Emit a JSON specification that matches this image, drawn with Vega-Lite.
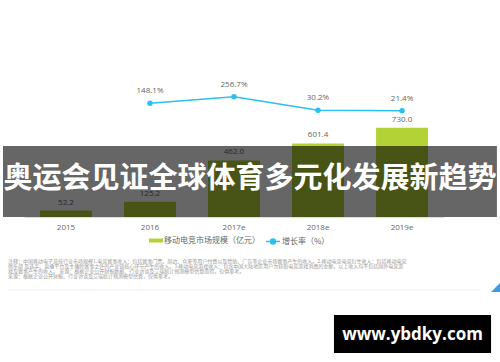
{
  "$schema": "https://vega.github.io/schema/vega-lite/v6.json",
  "width": 420,
  "height": 137,
  "autosize": {"type": "none"},
  "padding": {"left": 24, "top": 80, "right": 56, "bottom": 145},
  "background": "white",
  "config": {"view": {"stroke": null}, "font": "Noto Sans"},
  "datasets": {
    "d": [
      {"year": "2015", "market": 52.2, "growth": null},
      {"year": "2016", "market": 125.2, "growth": 148.1},
      {"year": "2017e", "market": 462.0, "growth": 256.7},
      {"year": "2018e", "market": 601.4, "growth": 30.2},
      {"year": "2019e", "market": 730.0, "growth": 21.4}
    ]
  },
  "layer": [
    {
      "data": {"name": "d"},
      "encoding": {
        "x": {
          "field": "year", "type": "ordinal", "sort": null,
          "scale": {"type": "band", "domain": ["2015", "2016", "2017e", "2018e", "2019e"], "paddingInner": 0.381, "paddingOuter": 0.19},
          "axis": {"title": null, "domainColor": "#dcdcdc", "ticks": false, "labelPadding": 6, "labelFontSize": 8, "labelColor": "#666666", "labelAngle": 0, "grid": false, "labelFont": "Open Sans"}
        },
        "y": {"field": "market", "type": "quantitative", "scale": {"domain": [0, 1120]}, "axis": null}
      },
      "layer": [
        {
          "mark": {"type": "bar"},
          "encoding": {
            "fill": {
              "datum": "移动电竞市场规模（亿元）", "type": "nominal",
              "scale": {"range": ["#b3d235"]},
              "legend": {"orient": "none", "legendX": 125, "legendY": 153.5, "title": null, "symbolType": "M-1,-0.286H1V0.286H-1Z", "symbolSize": 196, "symbolStrokeWidth": 0, "labelFontSize": 8, "labelColor": "#666666", "labelFont": "Noto Sans CJK SC", "padding": 0, "labelOffset": 1}
            }
          }
        },
        {
          "mark": {"type": "text", "dy": -8, "fontSize": 8, "color": "#666666", "font": "Open Sans"},
          "encoding": {"text": {"field": "market", "type": "quantitative", "format": ".1f"}}
        }
      ]
    },
    {
      "data": {"name": "d"},
      "transform": [
        {"filter": "isValid(datum.growth)"},
        {"calculate": "format(datum.growth, '.1f') + '%'", "as": "glabel"}
      ],
      "encoding": {
        "x": {
          "field": "year", "type": "ordinal", "sort": null,
          "scale": {"type": "band", "domain": ["2015", "2016", "2017e", "2018e", "2019e"], "paddingInner": 0.381, "paddingOuter": 0.19},
          "axis": null
        },
        "y": {"field": "growth", "type": "quantitative", "scale": {"domain": [-1765, 538]}, "axis": null}
      },
      "layer": [
        {
          "mark": {"type": "line", "strokeWidth": 1.6},
          "encoding": {
            "stroke": {
              "datum": "增长率（%）", "type": "nominal",
              "scale": {"range": ["#2bc0f0"]},
              "legend": {"orient": "none", "legendX": 241, "legendY": 153.5, "title": null, "symbolType": "M-1,0H1M-0.35,0A0.35,0.35,0,1,1,0.35,0A0.35,0.35,0,1,1,-0.35,0", "symbolSize": 196, "symbolStrokeWidth": 1.5, "symbolFillColor": "#2bc0f0", "labelFontSize": 8, "labelColor": "#666666", "labelFont": "Noto Sans CJK SC", "padding": 0, "labelOffset": 1}
            }
          }
        },
        {
          "mark": {"type": "point", "filled": true, "size": 30, "color": "#2bc0f0", "opacity": 1}
        },
        {
          "mark": {"type": "text", "dy": -12, "fontSize": 8, "color": "#666666", "font": "Open Sans"},
          "encoding": {"text": {"field": "glabel", "type": "nominal"}}
        }
      ]
    },
    {
      "data": {"values": [{}]},
      "layer": [
        {
          "mark": {"type": "rect", "color": "black", "opacity": 0.6},
          "encoding": {
            "x": {"datum": -0.05, "type": "quantitative", "scale": {"domain": [0, 1]}, "axis": null},
            "x2": {"datum": 1.126},
            "y": {"datum": 0, "type": "quantitative", "scale": {"domain": [0, 1]}, "axis": null},
            "y2": {"datum": 0.518}
          }
        },
        {
          "mark": {"type": "text", "text": "奥运会见证全球体育多元化发展新趋势", "font": "Noto Sans CJK SC", "fontWeight": "bold", "fontSize": 29, "color": "white", "align": "center", "baseline": "middle"},
          "encoding": {
            "x": {"datum": 0.538, "type": "quantitative", "scale": {"domain": [0, 1]}, "axis": null},
            "y": {"datum": 0.277, "type": "quantitative", "scale": {"domain": [0, 1]}, "axis": null}
          }
        },
        {
          "mark": {
            "type": "text",
            "text": [
              "注释：中国移动电子竞技行业市场规模1.电竞赛事收入：包括赛事门票、周边、众筹等用户付费以及赞助、广告等企业市场赛事产生的收入。2.移动电竞电竞衍生收入：包括移动电竞",
              "俱乐部 及选手、直播平台及主播除赛事之外的产业链核心环节产生的收入。3.移动电竞游戏收入：包含中国大陆地区用户为获取电竞游戏消费的金额，以上收入均不包括国外电竞游",
              "戏及赛事产生的收入。 来源：根据企业公开财报数据、行业访谈及艾瑞统计预测模型估算而得，仅供参考。",
              "来源：根据企业公开财报、行业访谈及艾瑞统计预测模型估算，仅供参考。"
            ],
            "font": "Noto Sans CJK SC", "fontSize": 5, "lineHeight": 5, "color": "#9a9a9a", "align": "left", "baseline": "top"
          },
          "encoding": {
            "x": {"datum": -0.038, "type": "quantitative", "scale": {"domain": [0, 1]}, "axis": null},
            "y": {"datum": -0.31, "type": "quantitative", "scale": {"domain": [0, 1]}, "axis": null}
          }
        },
        {
          "mark": {"type": "rule", "color": "#eeeeee", "strokeWidth": 1},
          "encoding": {
            "x": {"datum": -0.038, "type": "quantitative", "scale": {"domain": [0, 1]}, "axis": null},
            "x2": {"datum": 1.085},
            "y": {"datum": -0.533, "type": "quantitative", "scale": {"domain": [0, 1]}, "axis": null}
          }
        },
        {
          "mark": {"type": "point", "shape": "M1,-1L1,1L-1,1Z", "filled": true, "size": 81, "color": "#3d9be0", "opacity": 1},
          "encoding": {
            "x": {"datum": 1.1226, "type": "quantitative", "scale": {"domain": [0, 1]}, "axis": null},
            "y": {"datum": -0.5146, "type": "quantitative", "scale": {"domain": [0, 1]}, "axis": null}
          }
        },
        {
          "mark": {"type": "rect", "color": "black", "opacity": 1},
          "encoding": {
            "x": {"datum": 0.738, "type": "quantitative", "scale": {"domain": [0, 1]}, "axis": null},
            "x2": {"datum": 1.112},
            "y": {"datum": -0.715, "type": "quantitative", "scale": {"domain": [0, 1]}, "axis": null},
            "y2": {"datum": -0.993}
          }
        },
        {
          "mark": {"type": "text", "text": "www.ybdky.com", "font": "Open Sans", "fontWeight": "bold", "fontSize": 17, "color": "white", "align": "center", "baseline": "middle"},
          "encoding": {
            "x": {"datum": 0.925, "type": "quantitative", "scale": {"domain": [0, 1]}, "axis": null},
            "y": {"datum": -0.864, "type": "quantitative", "scale": {"domain": [0, 1]}, "axis": null}
          }
        }
      ]
    }
  ],
  "resolve": {"scale": {"x": "independent", "y": "independent"}, "axis": {"x": "independent", "y": "independent"}}
}
